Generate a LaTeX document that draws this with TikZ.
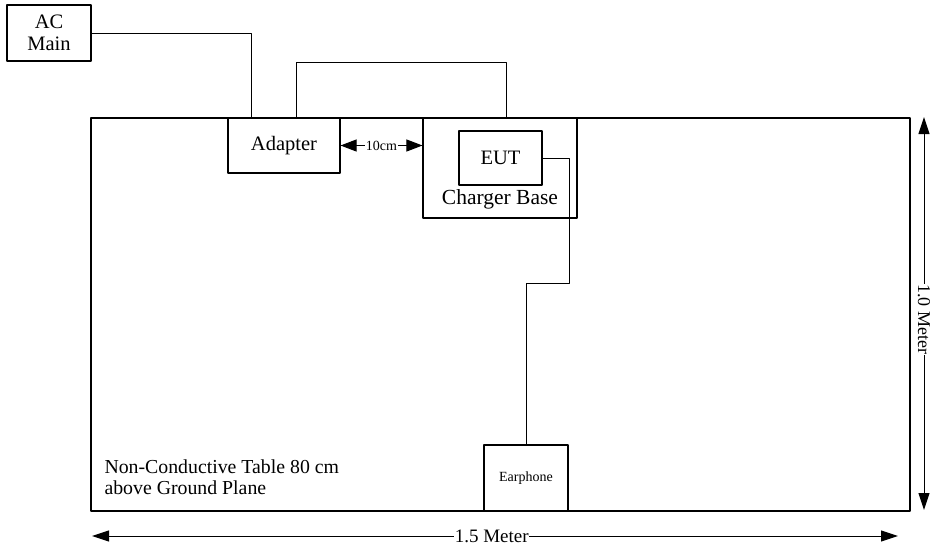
\documentclass[tikz,border=0pt]{standalone}
\usepackage{fontspec}
\setmainfont{Liberation Serif}
\usetikzlibrary{arrows.meta}
\begin{document}
\begin{tikzpicture}[x=1pt,y=-1pt,line join=round,
	box/.style={draw,line width=1.1pt,inner sep=0pt,align=center,font=\fontsize{20.5}{22}\selectfont},
	dim/.style={line width=1pt,{Triangle[length=17pt,width=11pt]}-{Triangle[length=17pt,width=11pt]}},
	lbl/.style={fill=white,inner sep=0.5pt,font=\fontsize{19}{21}\selectfont}]
	\useasboundingbox (0,0) rectangle (932,552);
	% table
	\draw[line width=2.4pt] (91,118) rectangle (910,511);
	\node[align=left,anchor=west,font=\fontsize{19.8}{21}\selectfont] (note) at (101,477) {Non-Conductive Table 80 cm\\above Ground Plane};
	% boxes
	\node[box,minimum width=84pt,minimum height=56pt] (acmain) at (49,33) {AC\\Main};
	\node[box,minimum width=112pt,minimum height=55pt] (adapter) at (284,145.5) {Adapter};
	\node[box,minimum width=154pt,minimum height=100pt] (charger) at (500,168) {};
	\node[box,minimum width=83pt,minimum height=54pt] (eut) at (500.5,158) {EUT};
	\node[font=\fontsize{21.5}{22}\selectfont] (chlabel) at (500,199) {Charger Base};
	\node[box,minimum width=84pt,minimum height=66pt,font=\fontsize{14}{16}\selectfont] (earphone) at (526,478) {Earphone};
	% cables
	\coordinate (acin) at (251,118);
	\coordinate (adout) at (296,118);
	\coordinate (chin) at (506,118);
	\coordinate (bend) at (569,283);
	\draw[line width=1pt] (acmain.east) -| (acin);
	\draw[line width=1pt] (adout) -- ++(0,-56) -| (chin);
	\draw[line width=1pt] (eut.east) -| (bend) -| (earphone.north);
	% distances
	\draw[line width=1pt,{Triangle[length=16pt,width=12pt]}-{Triangle[length=16pt,width=12pt]}] (adapter.east) -- node[fill=white,inner sep=0.5pt,font=\fontsize{14}{16}\selectfont] {10cm} (adapter.east -| charger.west);
	\coordinate (hl) at (92,536);
	\coordinate (hr) at (898,536);
	\coordinate (vt) at (924,117);
	\coordinate (vb) at (924,510);
	\draw[dim] (hl) -- node[lbl,pos=0.496] {1.5 Meter} (hr);
	\draw[dim] (vt) -- node[lbl,rotate=-90,pos=0.515,font=\fontsize{18}{20}\selectfont] {1.0 Meter} (vb);
\end{tikzpicture}
\end{document}
